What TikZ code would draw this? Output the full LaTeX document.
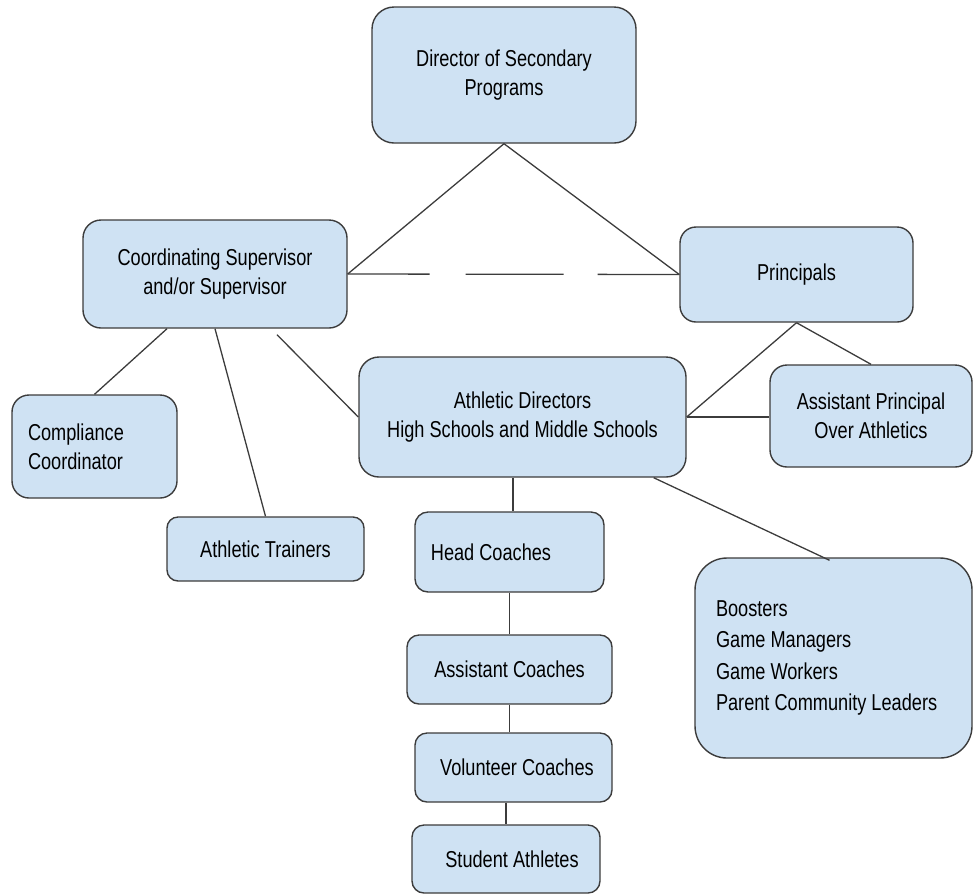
\documentclass[tikz,border=0pt]{standalone}
\usepackage{fontspec}
\setmainfont{Liberation Sans}[FakeStretch=0.79]
\usepackage[dvipsnames]{xcolor}
\definecolor{boxblue}{HTML}{CFE2F3}
\definecolor{edgegray}{HTML}{3C3C3C}

\begin{document}
\begin{tikzpicture}[x=0.5pt,y=-0.5pt,link/.style={draw=edgegray,line width=0.65pt},box/.style={draw=edgegray,fill=boxblue,line width=0.7pt,inner sep=0pt,align=center,font=\fontsize{11.5}{14.5}\selectfont}]

            \useasboundingbox (0,0) rectangle (973,895);

            % top of the chart
            \node[box, minimum width=132pt, minimum height=68pt, rounded corners=11pt] (dir) at (504,75) {Director of Secondary\\Programs};
            \node[box, minimum width=132pt, minimum height=54pt, rounded corners=9pt] (coord) at (215,274) {Coordinating Supervisor\\and/or Supervisor};
            \node[box, minimum width=116.5pt, minimum height=47.5pt, rounded corners=8pt] (princ) at (796.5,274.5) {Principals};

            % middle row
            \node[box, minimum width=163.5pt, minimum height=60pt, rounded corners=10pt] (ad) at (522.5,417) {Athletic Directors\\High Schools and Middle Schools};
            \node[box, minimum width=101pt, minimum height=51pt, rounded corners=8.5pt] (ap) at (871,416) {Assistant Principal\\Over Athletics};
            \node[box, minimum height=51.5pt, rounded corners=8.5pt, align=flush left, inner xsep=8pt, text width=66.5pt] (comp) at (94.5,446.5) {Compliance\\Coordinator};
            \node[box, minimum width=98.5pt, minimum height=32pt, rounded corners=5.5pt] (train) at (265.5,549) {Athletic Trainers};
            \node[box, minimum height=100pt, rounded corners=16pt, align=flush left, inner xsep=10.5pt, text width=117.5pt, font=\fontsize{11.5}{15.7}\selectfont] (boost) at (833.5,658) {Boosters\\Game Managers\\Game Workers\\Parent Community Leaders};

            % coaches
            \node[box, minimum width=94.5pt, minimum height=40pt, rounded corners=6.5pt] (head) at (509.5,552) {Head Coaches\hspace*{18.5pt}};
            \node[box, minimum width=102.5pt, minimum height=34.5pt, rounded corners=6pt] (asst) at (509.5,669.5) {Assistant Coaches};
            \node[box, minimum width=98.5pt, minimum height=34.5pt, rounded corners=6pt] (vol) at (513.5,767.5) {\hspace*{3.5pt}Volunteer Coaches};
            \node[box, minimum width=94pt, minimum height=34pt, rounded corners=6pt] (stud) at (506,859) {\hspace*{6pt}Student Athletes};

            \draw[link] (dir.south) to (coord.east);
            \draw[link] (dir.south) to (princ.west);
            \draw[link, dash pattern=on 41pt off 18pt on 49pt off 17pt on 50pt] (coord.east) to (princ.west);
            \draw[link] ([xshift=-24pt]coord.south) to (comp.north);
            \draw[link] (coord.south) to (train.north);
            \draw[link] ([xshift=31pt,yshift=-3pt]coord.south) to (ad.west);
            \draw[link] (princ.south) to (ad.east);
            \draw[link] (princ.south) to (ap.north);
            \draw[link] (ad.east) to (ad.east -| ap.west);
            \draw[link] ([xshift=-4.75pt]ad.south) to ([xshift=-4.75pt]ad.south |- head.north);
            \draw[link] ([xshift=-16.5pt]ad.south east) to ([xshift=-2pt,yshift=-1.5pt]boost.north);
            \draw[link] (head.south) to (asst.north);
            \draw[link] (asst.south) to (asst.south |- vol.north);
            \draw[link] (stud.north |- vol.south) to (stud.north);

            ;
        \end{tikzpicture}
\end{document}
